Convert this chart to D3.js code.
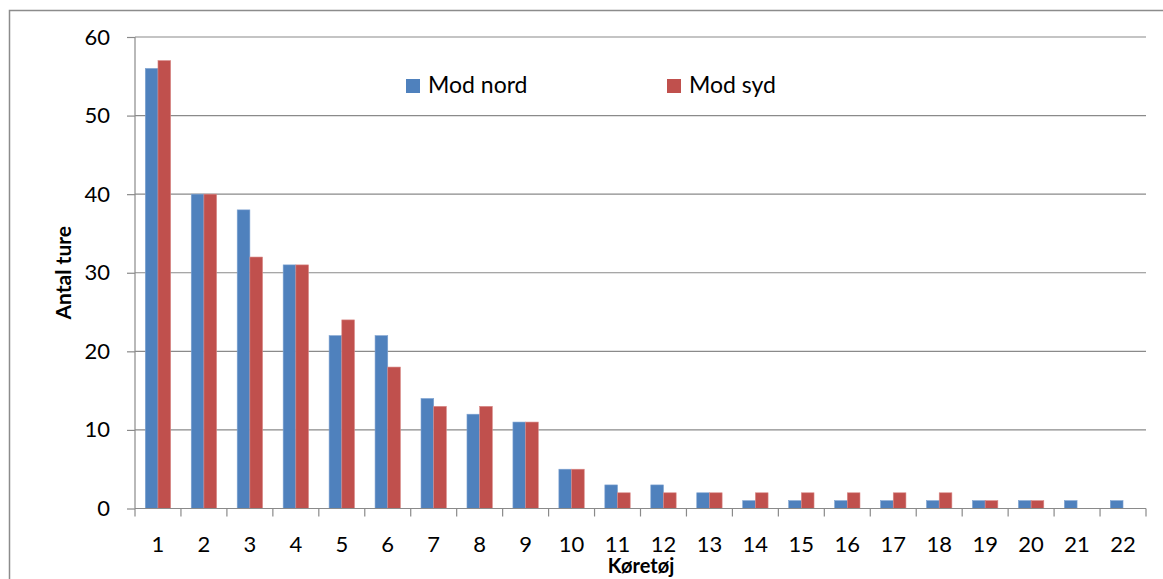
<!DOCTYPE html>
<html>
<head>
<meta charset="utf-8">
<script src="https://cdn.jsdelivr.net/npm/d3@7"></script>
<style>
  body { margin: 0; background: #fff; }
  svg { display: block; font-family: Lato, "Open Sans", sans-serif; }
</style>
</head>
<body>
<div id="chart"></div>
<script>
const categories = ["1","2","3","4","5","6","7","8","9","10","11","12","13","14","15","16","17","18","19","20","21","22"];
const modNord = [56, 40, 38, 31, 22, 22, 14, 12, 11, 5, 3, 3, 2, 1, 1, 1, 1, 1, 1, 1, 1, 1];
const modSyd  = [57, 40, 32, 31, 24, 18, 13, 13, 11, 5, 2, 2, 2, 2, 2, 2, 2, 2, 1, 1, 0, 0];
const seriesNames = ["Mod nord", "Mod syd"];
const colors = ["#4F81BD", "#C0504D"];
const yTicks = [0, 10, 20, 30, 40, 50, 60];

const width = 1163, height = 579;
const plotLeft = 135, plotRight = 1146, plotTop = 37, plotBottom = 508.5;

const svg = d3.select('#chart').append('svg')
  .attr('width', width)
  .attr('height', height);

// outer chart border
svg.append('rect')
  .attr('x', 9.5).attr('y', 10.5)
  .attr('width', width + 20).attr('height', height + 20)
  .attr('fill', 'none').attr('stroke', '#8c8c8c').attr('stroke-width', 1.5);

let x = d3.scaleBand().domain(categories).range([plotLeft, plotRight]).paddingInner(0).paddingOuter(0);
let y = d3.scaleLinear().domain([0, 60]).range([plotBottom, plotTop]);

// gridlines
svg.append('g')
  .selectAll('line')
  .data(yTicks.filter(d => d > 0))
  .join('line')
  .attr('x1', plotLeft).attr('x2', plotRight)
  .attr('y1', d => y(d)).attr('y2', d => y(d))
  .attr('stroke', '#8a8a8a').attr('stroke-width', 1.2);

// bars
const barW = x.bandwidth() * 0.276;
const rows = categories.map((c, i) => ({ c, vals: [modNord[i], modSyd[i]] }));
rows.forEach(r => {
  r.vals.forEach((v, s) => {
    if (v <= 0) return;
    const x0 = x(r.c) + x.bandwidth() / 2 - barW + s * barW;
    svg.append('rect')
      .attr('x', x0).attr('y', y(v))
      .attr('width', barW).attr('height', y(0) - y(v))
      .attr('fill', colors[s])
      .attr('stroke', s === 0 ? '#7fa3d1' : '#d98a88')
      .attr('stroke-width', 0.6);
  });
});

// y axis
const yAxis = d3.axisLeft(y).tickValues(yTicks).tickSize(8).tickPadding(17);
const gy = svg.append('g').attr('transform', `translate(${plotLeft},0)`).call(yAxis);
gy.select('.domain').attr('stroke', '#8a8a8a').attr('stroke-width', 1.2).attr('d', `M0,${plotTop}V${plotBottom}`);
gy.selectAll('.tick line').attr('stroke', '#8a8a8a').attr('stroke-width', 1.2);
gy.selectAll('.tick text').attr('font-size', 22).attr('fill', '#000').attr('font-family', 'Lato, sans-serif');

// x axis: ticks at band boundaries
const gx = svg.append('g').attr('transform', `translate(0,${plotBottom})`);
gx.append('line').attr('x1', plotLeft).attr('x2', plotRight).attr('stroke', '#8a8a8a').attr('stroke-width', 1.2);
const bounds = categories.map(c => x(c)).concat([plotRight]);
gx.selectAll('line.tk').data(bounds).join('line').attr('class', 'tk')
  .attr('x1', d => d).attr('x2', d => d).attr('y1', 0).attr('y2', 8)
  .attr('stroke', '#8a8a8a').attr('stroke-width', 1.2);
gx.selectAll('text').data(categories).join('text')
  .attr('x', d => x(d) + x.bandwidth() / 2)
  .attr('y', 43.5)
  .attr('text-anchor', 'middle')
  .attr('font-size', 22)
  .text(d => d);

// axis titles
svg.append('text')
  .attr('transform', `translate(71, ${(plotTop + plotBottom) / 2}) rotate(-90)`)
  .attr('text-anchor', 'middle')
  .attr('font-size', 21).attr('font-weight', 'bold')
  .text('Antal ture');

svg.append('text')
  .attr('x', 641).attr('y', 573)
  .attr('text-anchor', 'middle')
  .attr('font-size', 20).attr('font-weight', 'bold')
  .text('Køretøj');

// legend
const legendX = [406, 667];
seriesNames.forEach((name, i) => {
  const g = svg.append('g').attr('transform', `translate(${legendX[i]}, 79)`);
  g.append('rect').attr('width', 14).attr('height', 14).attr('fill', colors[i]);
  g.append('text').attr('x', 22).attr('y', 14).attr('font-size', 23).text(name);
});
</script>
</body>
</html>
